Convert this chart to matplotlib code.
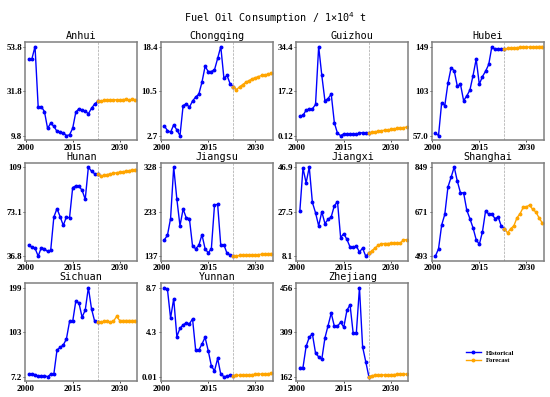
import matplotlib
matplotlib.use("Agg")
import matplotlib.pyplot as plt
import numpy as np

# years
hist_years = list(range(2001, 2023))
fc_years = list(range(2023, 2036))
split_year = 2023

provinces = ["Anhui", "Chongqing", "Guizhou", "Hubei", "Hunan", "Jiangsu",
             "Jiangxi", "Shanghai", "Sichuan", "Yunnan", "Zhejiang"]

hist = {
    "Anhui": [47.5, 47.7, 53.8, 24.1, 24.1, 21.7, 13.4, 15.9, 14.4, 11.9, 11.4,
              11.2, 9.8, 10.2, 13.4, 21.4, 23.1, 22.4, 21.9, 20.6, 23.3, 25.4],
    "Chongqing": [4.4, 3.6, 3.3, 4.6, 3.7, 2.7, 8.0, 8.3, 7.7, 8.8, 9.5,
                  10.0, 12.1, 14.9, 14.0, 14.0, 14.3, 16.3, 18.4, 12.8, 13.3, 11.8],
    "Guizhou": [7.6, 7.9, 9.9, 10.4, 10.4, 12.1, 34.4, 23.3, 13.5, 14.4, 16.1,
                5.1, 1.0, 0.12, 0.8, 0.8, 0.6, 0.8, 0.6, 1.0, 1.3, 1.0],
    "Hubei": [59.5, 57.0, 91, 88, 111, 127, 124, 108, 110, 93, 98,
              104, 119, 136, 110, 118, 123.5, 130.5, 148.8, 146, 146, 146],
    "Hunan": [46.0, 43.9, 43.3, 36.8, 43.6, 42.8, 40.6, 41.7, 68.7, 75.5, 69.0,
              61.9, 68.7, 68.1, 92.7, 94.1, 93.7, 90.5, 83.1, 109.4, 106, 104],
    "Jiangsu": [172, 181.6, 217.7, 328, 259.5, 202, 238, 219, 217.7, 158.6, 153,
                160, 183, 153, 144, 153, 246.5, 248, 160, 161.5, 142.7, 140],
    "Jiangxi": [27.7, 46.5, 40.0, 46.9, 31.5, 27.0, 21.3, 27.4, 22.3, 24.1, 25.2,
                30.1, 31.8, 16.2, 17.9, 15.4, 12.1, 11.9, 12.5, 9.9, 11.6, 8.1],
    "Shanghai": [493, 522, 617, 660, 769, 808, 849, 792, 746, 746, 677,
                 643, 606, 559, 540, 590, 674, 661, 661, 643, 650, 613],
    "Sichuan": [12.3, 13, 11.6, 8.0, 8.7, 9.4, 7.2, 12.3, 13, 64.4, 70.2,
                75.3, 88.3, 126, 126, 170, 165.7, 135.3, 150.5, 199, 153.4, 126.6],
    "Yunnan": [8.7, 8.54, 5.72, 7.62, 3.92, 4.73, 5.06, 5.26, 5.16, 5.65, 2.6,
               2.6, 3.19, 3.85, 2.54, 1.06, 0.57, 1.79, 0.25, 0.01, 0.05, 0.14],
    "Zhejiang": [192, 192, 262, 292, 303, 240, 227.5, 219.6, 290, 330.6, 371.6,
                 328.4, 328.4, 341.7, 325, 380.5, 399.4, 305, 305, 456, 260.7, 211.8],
}

forecast = {
    "Anhui": [26.7, 26.9, 27.2, 27.5, 27.5, 27.5, 27.5, 27.5, 27.6, 27.7, 27.3, 27.8, 27.5],
    "Chongqing": [11.3, 10.8, 11.3, 11.7, 12.1, 12.4, 12.7, 12.9, 13.1, 13.3, 13.4, 13.5, 13.7],
    "Guizhou": [1.2, 1.4, 1.6, 1.8, 2.0, 2.2, 2.3, 2.5, 2.7, 2.9, 3.0, 3.2, 3.4],
    "Hubei": [146.5, 147, 147.3, 147.6, 147.9, 148.1, 148.3, 148.4, 148.5, 148.6, 148.7, 149.0, 149.0],
    "Hunan": [103.5, 102.0, 102.8, 103.3, 103.8, 104.3, 104.8, 105.2, 105.6, 106.0, 106.5, 107.0, 107.4],
    "Jiangsu": [137.0, 137.5, 138.5, 138.8, 139.0, 139.2, 139.5, 139.8, 140.2, 141.0, 141.5, 142.0, 142.5],
    "Jiangxi": [9.3, 10.5, 11.7, 12.8, 13.5, 13.6, 13.6, 13.7, 13.7, 13.7, 13.8, 15.1, 15.3],
    "Shanghai": [603, 586, 603, 614, 646, 663, 688, 690, 697, 680, 670, 647, 627],
    "Sichuan": [124.5, 125.3, 126, 126, 125.3, 126.7, 136.8, 128, 128, 128, 128, 128, 128],
    "Yunnan": [0.12, 0.13, 0.15, 0.17, 0.18, 0.20, 0.21, 0.23, 0.25, 0.27, 0.28, 0.30, 0.32],
    "Zhejiang": [162, 165.5, 166.5, 167, 167.5, 168, 168, 168.5, 169, 169.5, 170, 170, 170.5],
}

ytick_labels = {
    "Anhui": ["9.8", "31.8", "53.8"],
    "Chongqing": ["2.7", "10.5", "18.4"],
    "Guizhou": ["0.12", "17.2", "34.4"],
    "Hubei": ["57.0", "103", "149"],
    "Hunan": ["36.8", "73.1", "109"],
    "Jiangsu": ["137", "233", "328"],
    "Jiangxi": ["8.1", "27.5", "46.9"],
    "Shanghai": ["493", "671", "849"],
    "Sichuan": ["7.2", "103", "199"],
    "Yunnan": ["0.01", "4.3", "8.7"],
    "Zhejiang": ["162", "309", "456"],
}

title_font = "DejaVu Sans Mono"
tick_font = "Liberation Serif"

fig, axes = plt.subplots(3, 4, figsize=(5.5, 3.97), dpi=100)
fig.subplots_adjust(left=0.046, right=0.989, top=0.894, bottom=0.040,
                    wspace=0.21, hspace=0.23)

for i, name in enumerate(provinces):
    ax = axes.flat[i]
    h = hist[name]
    f = forecast[name]
    # historical line runs on to the first forecast point
    ax.plot(hist_years + [fc_years[0]], h + [f[0]], color="blue", marker="o",
            markersize=1.8, linewidth=1.0, label="Historical")
    ax.plot(fc_years, f, color="orange", marker="o", markersize=1.8,
            linewidth=1.0, label="Forecast")
    ax.axvline(split_year, color="gray", linestyle="--", linewidth=0.5, alpha=0.7)

    lo = min(h + f)
    hi = max(h + f)
    ax.set_yticks([lo, (lo + hi) / 2, hi])
    ax.set_yticklabels(ytick_labels[name])
    ax.set_xticks([2000, 2015, 2030])
    ax.set_xlim(1999.9, 2035.6)
    ax.set_title(name, fontsize=7.3, family=title_font, pad=2)
    for lab in ax.get_xticklabels() + ax.get_yticklabels():
        lab.set_family(tick_font)
        lab.set_fontweight("bold")
        lab.set_fontsize(6.4)
    ax.tick_params(length=1.5, width=0.5, pad=1)
    for sp in ax.spines.values():
        sp.set_color("#808080")
        sp.set_linewidth(1.1)

# last cell holds only the legend
leg_ax = axes.flat[11]
leg_ax.axis("off")
handles, labels = axes.flat[0].get_legend_handles_labels()
leg_ax.legend(handles, labels, loc="center", bbox_to_anchor=(0.52, 0.25),
              frameon=False, prop={"family": tick_font, "weight": "bold", "size": 4.9},
              handlelength=2.2, labelspacing=0.3)

fig.suptitle("Fuel Oil Consumption / 1×10$^4$ t", fontsize=7.3,
             family=title_font, y=0.975)

fig.savefig("out.png", dpi=100)
